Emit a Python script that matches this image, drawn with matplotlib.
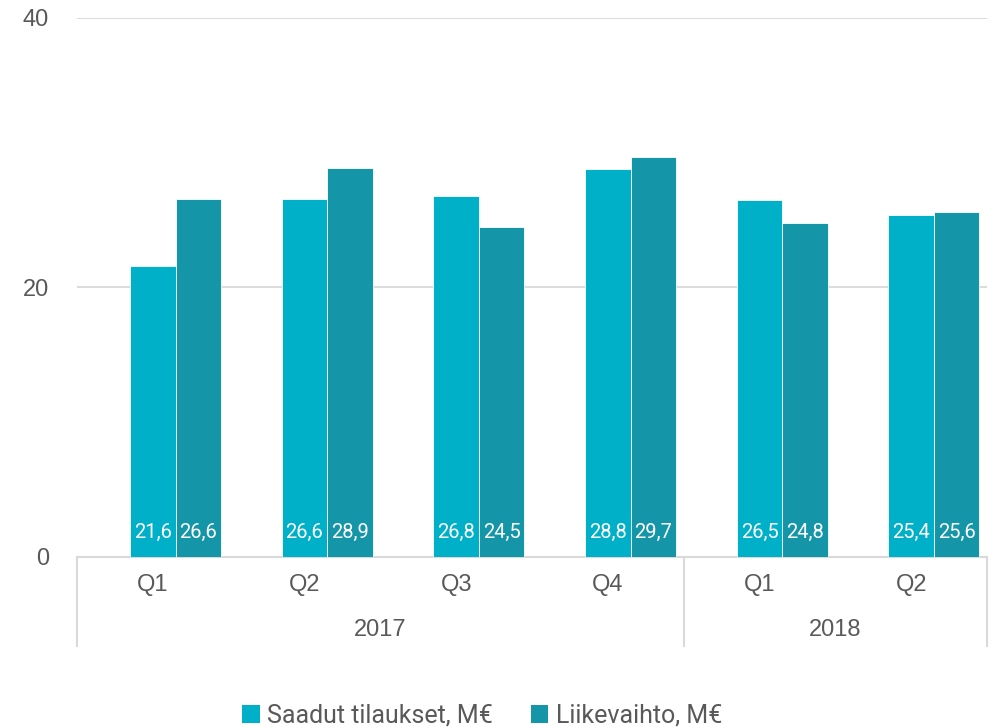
import matplotlib
matplotlib.use("Agg")
import matplotlib.pyplot as plt
import matplotlib.transforms as mtransforms
from matplotlib.patches import Patch
import numpy as np

quarters = ["Q1", "Q2", "Q3", "Q4", "Q1", "Q2"]
years = ["2017", "2018"]
year_spans = [(0, 3), (4, 5)]
orders = [21.6, 26.6, 26.8, 28.8, 26.5, 25.4]
revenue = [26.6, 28.9, 24.5, 29.7, 24.8, 25.6]
series_names = ["Saadut tilaukset, M€", "Liikevaihto, M€"]
colors = ["#00B0C8", "#1596A8"]
yticks = [0, 20, 40]

fig = plt.figure(figsize=(10, 7.28), dpi=100)
ax = fig.add_axes([0.077, 0.2349, 0.91, 0.7404])

x = np.arange(len(quarters))
w = 0.3
b1 = ax.bar(x, orders, w, color=colors[0], edgecolor="white", linewidth=0.6, zorder=3)
b2 = ax.bar(x + w, revenue, w, color=colors[1], edgecolor="white", linewidth=0.6, zorder=3)

lab_font = dict(family=["Roboto", "DejaVu Sans"], fontsize=14.5, color="white")
for bars, vals in ((b1, orders), (b2, revenue)):
    for r, v in zip(bars, vals):
        ax.text(r.get_x() + r.get_width() / 2, 1.8, f"{v:.1f}".replace(".", ","),
                ha="center", va="center", zorder=4, **lab_font)

ax.set_xlim(-0.5, len(quarters) - 0.5)
ax.set_ylim(0, 40)
ax.set_yticks(yticks)
ax.set_yticklabels([str(t) for t in yticks], fontsize=17, color="#595959",
                   family=["Liberation Sans"])
ax.tick_params(axis="y", length=0, pad=20)
ax.set_xticks([])
for s in ["top", "right", "left"]:
    ax.spines[s].set_visible(False)
ax.spines["bottom"].set_color("#D9D9D9")
ax.spines["bottom"].set_linewidth(1.5)
ax.grid(axis="y", color="#D9D9D9", linewidth=1.3, zorder=0)
ax.set_axisbelow(True)

trans = mtransforms.blended_transform_factory(ax.transData, ax.transAxes)
for i, q in enumerate(quarters):
    ax.text(i, -0.052, q, transform=trans, ha="center", va="center",
            fontsize=17, color="#595959", family="Liberation Sans")
for yl, (a, b) in zip(years, year_spans):
    ax.text((a + b) / 2, -0.135, yl, transform=trans, ha="center", va="center",
            fontsize=17, color="#595959", family="Liberation Sans")
bounds = [-0.5] + [b + 0.5 for (a, b) in year_spans]
for bx in bounds:
    ax.plot([bx, bx], [0, -0.165], transform=trans, color="#D9D9D9",
            linewidth=1.5, clip_on=False)

handles = [Patch(facecolor=c, edgecolor="none") for c in colors]
fig.legend(handles, series_names, loc="center", bbox_to_anchor=(0.482, 0.017),
           ncol=2, frameon=False, handlelength=0.7, handleheight=0.7,
           handletextpad=0.3, columnspacing=1.5,
           prop=dict(family="Roboto", size=18), labelcolor="#595959")

fig.savefig("out.png", dpi=100)
